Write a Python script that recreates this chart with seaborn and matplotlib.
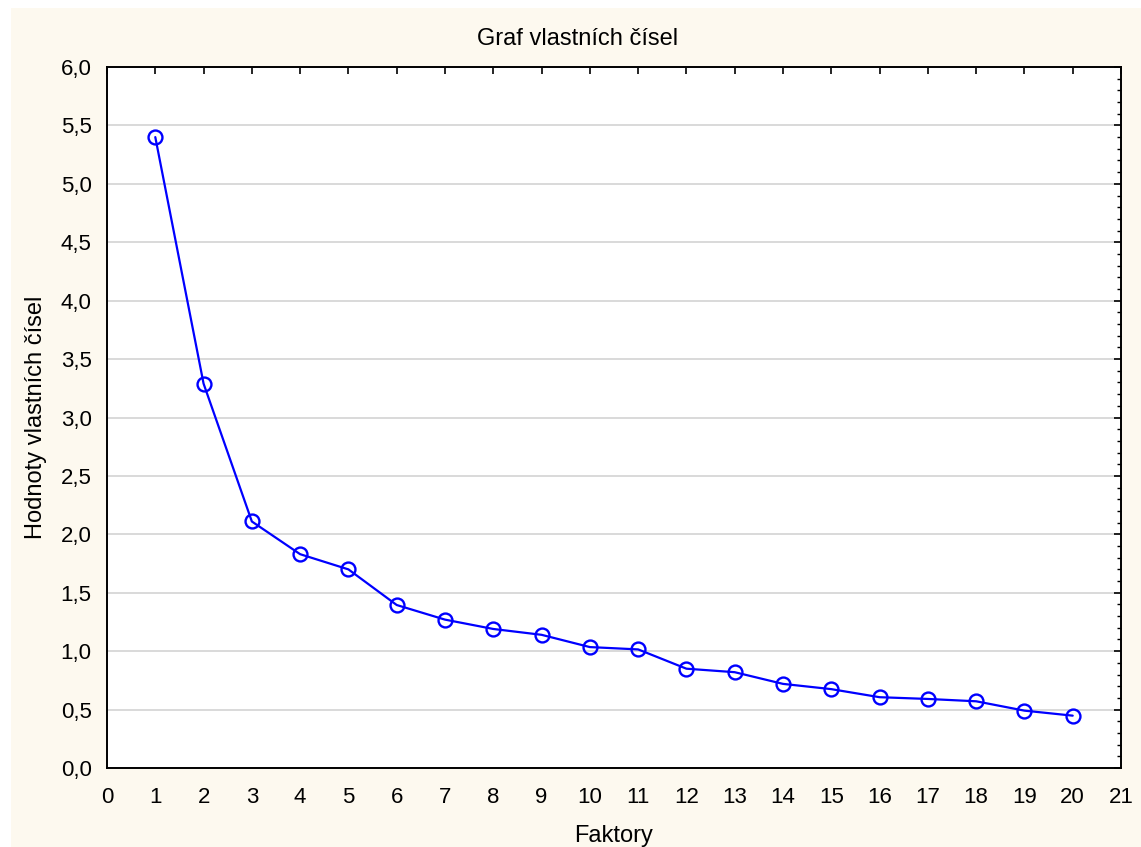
import seaborn as sns
import pandas as pd
import matplotlib
matplotlib.use('Agg')
import matplotlib.pyplot as plt
from matplotlib.ticker import MultipleLocator, FuncFormatter
from matplotlib.patches import Rectangle

# eigenvalues
factors = list(range(1, 21))
eigenvalues = [5.40, 3.29, 2.11, 1.83, 1.70, 1.395, 1.27, 1.19, 1.14, 1.035,
               1.015, 0.85, 0.82, 0.72, 0.675, 0.606, 0.591, 0.571, 0.491, 0.448]

df = pd.DataFrame({'Faktory': factors, 'Hodnoty': eigenvalues})

sns.set_style('white')
plt.rcParams['font.family'] = ['Liberation Sans', 'DejaVu Sans']
plt.rcParams['text.color'] = 'black'
plt.rcParams['axes.labelcolor'] = 'black'

fig = plt.figure(figsize=(11.41, 8.47), dpi=100, facecolor='white')
# cream panel behind the plot, leaving a thin white margin top/left
fig.patches.append(Rectangle((11 / 1141, 0), 1, 1 - 8 / 847, transform=fig.transFigure,
                             facecolor='#fdf9ef', edgecolor='none', zorder=-10))

ax = fig.add_axes([107 / 1141, 1 - 768 / 847, (1121 - 107) / 1141, (768 - 67) / 847])
ax.set_zorder(5)
ax.set_facecolor('white')

sns.lineplot(data=df, x='Faktory', y='Hodnoty', ax=ax, color='#0000ff', linewidth=1.6,
             marker='o', markersize=10, markerfacecolor='none',
             markeredgecolor='#0000ff', markeredgewidth=1.7)

ax.set_xlim(0, 21)
ax.set_ylim(0, 6)
ax.xaxis.set_major_locator(MultipleLocator(1))
ax.yaxis.set_major_locator(MultipleLocator(0.5))
ax.yaxis.set_minor_locator(MultipleLocator(0.1))
ax.yaxis.set_major_formatter(FuncFormatter(lambda v, p: f'{v:.1f}'.replace('.', ',')))

ax.grid(axis='y', which='major', color='#d9d9d9', linewidth=1.4)
ax.set_axisbelow(True)

for s in ax.spines.values():
    s.set_visible(True)
    s.set_color('black')
    s.set_linewidth(1.4)

ax.tick_params(which='both', direction='in', top=True, right=True, labelsize=16,
               colors='black')
ax.tick_params(which='major', length=5, width=1.2)
ax.tick_params(axis='y', which='major', pad=11)
ax.tick_params(axis='x', which='major', pad=14)
ax.tick_params(which='minor', length=3, width=1.0)

ax.set_title('Graf vlastních čísel', fontsize=17, x=(578 - 107) / 1014,
             y=(768 - 45) / 701, pad=0)
ax.set_xlabel('Faktory', fontsize=17)
ax.set_ylabel('Hodnoty vlastních čísel', fontsize=17)
ax.xaxis.set_label_coords(0.5, (768 - 842) / 701)
ax.xaxis.label.set_va('baseline')
ax.yaxis.set_label_coords((47 - 107) / 1014, 0.5)

fig.savefig('out.png', dpi=100, facecolor=fig.get_facecolor())
